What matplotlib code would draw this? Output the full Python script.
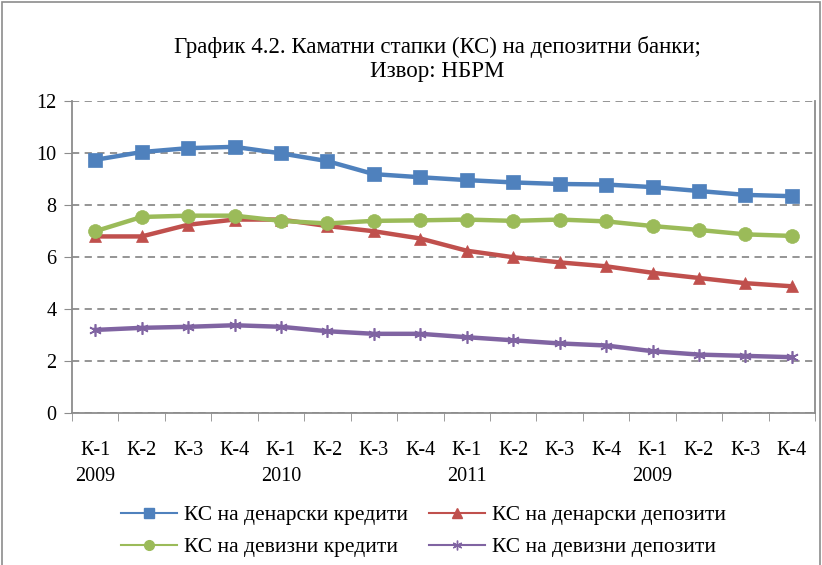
import numpy as np
import matplotlib.pyplot as plt
from matplotlib.patches import Rectangle

plt.rcParams['font.family'] = ['Liberation Serif', 'DejaVu Serif']

quarters = ["К-1", "К-2", "К-3", "К-4"] * 4
years = ["2009", "", "", "", "2010", "", "", "", "2011", "", "", "", "2009", "", "", ""]

den_krediti = [9.75, 10.05, 10.2, 10.25, 10.0, 9.7, 9.2, 9.08, 8.97, 8.88, 8.82, 8.8, 8.7, 8.55, 8.4, 8.35]
den_depoziti = [6.8, 6.8, 7.25, 7.45, 7.45, 7.2, 7.0, 6.72, 6.25, 6.0, 5.8, 5.65, 5.4, 5.2, 5.0, 4.88]
dev_krediti = [7.0, 7.55, 7.6, 7.6, 7.4, 7.3, 7.4, 7.42, 7.45, 7.4, 7.45, 7.38, 7.2, 7.05, 6.88, 6.82]
dev_depoziti = [3.2, 3.28, 3.32, 3.38, 3.32, 3.15, 3.05, 3.05, 2.92, 2.8, 2.68, 2.6, 2.38, 2.25, 2.2, 2.15]

names = ["КС на денарски кредити", "КС на денарски депозити",
         "КС на девизни кредити", "КС на девизни депозити"]

fig = plt.figure(figsize=(8.22, 5.65), dpi=100)
ax = fig.add_axes([0.0876, 0.269, 0.904, 0.5515])

x = np.arange(len(quarters))
series = [den_krediti, den_depoziti, dev_krediti, dev_depoziti]
colors = ['#4F81BD', '#C0504D', '#9BBB59', '#8064A2']
markers = ['s', '^', 'o', (6, 2, 0)]
msizes = [10, 9, 10, 9]

for s, c, m, ms in zip(series, colors, markers, msizes):
    ax.plot(x, s, color=c, lw=3.2, marker=m, markersize=ms,
            markeredgecolor=c, markeredgewidth=1.2 if m == (6, 2, 0) else 0.5)

ax.set_xlim(-0.5, 15.5)
ax.set_ylim(0, 12)
ax.set_yticks(range(0, 13, 2))
ax.yaxis.grid(True, color='#8c8c8c', ls=(0, (4, 3)), lw=1.3)
ax.set_axisbelow(True)

ax.set_xticks(x)
ax.set_xticklabels([q + "\n" + y for q, y in zip(quarters, years)],
                   fontsize=14.5, linespacing=1.55)
ax.set_xticks(np.arange(-0.5, 16, 1), minor=True)
ax.tick_params(axis='x', which='major', length=0, pad=20)
ax.tick_params(axis='x', which='minor', length=6, color='#8c8c8c')
ax.tick_params(axis='y', labelsize=14.5, length=6, color='#8c8c8c', pad=5)

for sp in ['left', 'bottom', 'right']:
    ax.spines[sp].set_color('#8c8c8c')
    ax.spines[sp].set_linewidth(1.3)
ax.spines['top'].set_visible(False)

fig.text(0.532, 0.896, "График 4.2. Каматни стапки (КС) на депозитни банки;\nИзвор: НБРМ",
         ha='center', va='center', fontsize=16.5, linespacing=1.2)

handles = [plt.Line2D([], [], color=c, lw=1.5, marker=m, markersize=7,
                      markeredgecolor=c) for c, m in zip(colors, markers)]
order = [0, 2, 1, 3]
fig.legend([handles[i] for i in order], [names[i] for i in order],
           loc='center', bbox_to_anchor=(0.515, 0.06), ncol=2,
           frameon=False, fontsize=15.5, handlelength=2.6, columnspacing=1.0,
           labelspacing=0.55, handletextpad=0.3)

fig.patches.append(Rectangle((0.002, -0.01), 0.995, 1.006, transform=fig.transFigure,
                             fill=False, edgecolor='#8c8c8c', lw=1.2))

fig.savefig("out.png", dpi=100)
